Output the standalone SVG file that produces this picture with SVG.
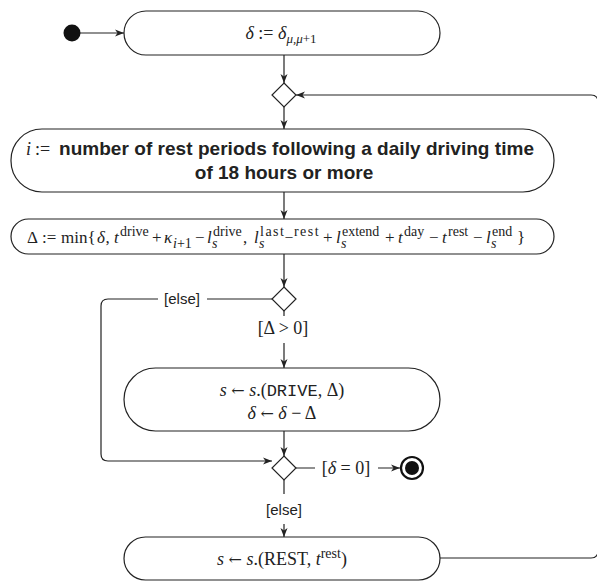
<svg xmlns="http://www.w3.org/2000/svg" width="597" height="582" viewBox="0 0 597 582">
<defs>
<marker id="arr" markerWidth="10" markerHeight="8" refX="9" refY="4" orient="auto" markerUnits="userSpaceOnUse">
<path d="M0,0.5 L9,4 L0,7.5 L2.5,4 Z" fill="#222"/>
</marker>
<style>
.node{fill:#fff;stroke:#222;stroke-width:1.2}
.line{fill:none;stroke:#222;stroke-width:1.2}
.m{font-family:"Liberation Serif","DejaVu Serif",serif;font-size:18px;fill:#222}
.m3{font-family:"Liberation Serif","DejaVu Serif",serif;font-size:17px;fill:#222}
.i{font-style:italic}
.s{font-size:13px}
.sp{font-size:14px}
.ar{font-family:"DejaVu Serif",serif;font-size:16px}
.b{font-family:"Liberation Sans",Arial,sans-serif;font-weight:bold;font-size:19px;fill:#222}
.lab{font-family:"Liberation Sans",Arial,sans-serif;font-size:15px;fill:#222}
.tt{font-family:"Liberation Mono","DejaVu Sans Mono",monospace;font-size:17px}
</style>
</defs>
<rect width="597" height="582" fill="#fff"/>

<g id="connectors">
<line class="line" x1="80" y1="33" x2="124" y2="33" marker-end="url(#arr)"/>
<line class="line" x1="284" y1="55" x2="284" y2="83" marker-end="url(#arr)"/>
<line class="line" x1="284" y1="107" x2="284" y2="129" marker-end="url(#arr)"/>
<line class="line" x1="284" y1="192" x2="284" y2="219" marker-end="url(#arr)"/>
<line class="line" x1="284" y1="254" x2="284" y2="287" marker-end="url(#arr)"/>
<line class="line" x1="284" y1="311" x2="284" y2="316"/>
<line class="line" x1="284" y1="343" x2="284" y2="368" marker-end="url(#arr)"/>
<line class="line" x1="284" y1="431" x2="284" y2="456" marker-end="url(#arr)"/>
<path class="line" d="M272,299 H207 M158,299 H108 Q101,299 101,306 V454 Q101,461 108,461 H272" marker-end="url(#arr)"/>
<path class="line" d="M296,468 H315 M378,468 H400" marker-end="url(#arr)"/>
<line class="line" x1="284" y1="480" x2="284" y2="494"/>
<line class="line" x1="284" y1="524" x2="284" y2="537" marker-end="url(#arr)"/>
<path class="line" d="M440,558 H591 Q598,558 598,551 V102 Q598,95 591,95 H296" marker-end="url(#arr)"/>
</g>

<g id="start"><circle cx="72" cy="33" r="8.5" fill="#111"/></g>

<g id="n1">
<rect class="node" x="124" y="11" width="316" height="44" rx="22"/>
<text class="m" x="281" y="39" text-anchor="middle"><tspan class="i">δ</tspan> := <tspan class="i">δ</tspan><tspan class="s i" dy="4">μ,μ</tspan><tspan class="s">+1</tspan></text>
</g>

<g id="d1"><path class="node" d="M284,83 L296,95 L284,107 L272,95 Z"/></g>

<g id="n2">
<rect class="node" x="11" y="129" width="543" height="63" rx="31"/>
<text class="m i" x="26" y="155">i</text>
<text class="m" x="35" y="155">:=</text>
<text class="b" x="59" y="155" textLength="475" lengthAdjust="spacing">number of rest periods following a daily driving time</text>
<text class="b" x="284" y="179" text-anchor="middle">of 18 hours or more</text>
</g>

<g id="n3">
<rect class="node" x="11" y="219" width="543" height="35" rx="17.5"/>
<text class="m3" y="243"><tspan x="27">Δ</tspan><tspan x="42">:=</tspan><tspan x="61">min{</tspan><tspan x="97" class="i">δ</tspan><tspan x="105.5">,</tspan><tspan x="114" class="i">t</tspan><tspan x="152">+</tspan><tspan x="164" class="i">κ</tspan><tspan x="195">−</tspan><tspan x="207" class="i">l</tspan><tspan x="243">,</tspan><tspan x="254" class="i">l</tspan><tspan x="323">+</tspan><tspan x="336" class="i">l</tspan><tspan x="385">+</tspan><tspan x="398" class="i">t</tspan><tspan x="429">−</tspan><tspan x="442" class="i">t</tspan><tspan x="473">−</tspan><tspan x="486" class="i">l</tspan><tspan x="517">}</tspan></text>
<text class="m3 sp" y="236"><tspan x="120">drive</tspan><tspan x="213">drive</tspan><tspan x="260" letter-spacing="1.5">last_rest</tspan><tspan x="342">extend</tspan><tspan x="404">day</tspan><tspan x="448">rest</tspan><tspan x="492">end</tspan></text>
<text class="m3 sp" y="248"><tspan x="173" class="i">i</tspan><tspan>+1</tspan><tspan x="212" class="i">s</tspan><tspan x="259" class="i">s</tspan><tspan x="341" class="i">s</tspan><tspan x="491" class="i">s</tspan></text>
</g>

<g id="d2"><path class="node" d="M284,287 L296,299 L284,311 L272,299 Z"/></g>
<text class="lab" x="182" y="304" text-anchor="middle">[else]</text>
<text class="m" x="283" y="334" text-anchor="middle">[Δ &gt; 0]</text>

<g id="n4">
<rect class="node" x="124" y="368" width="316" height="63" rx="31.5"/>
<text class="m" x="282" y="396" text-anchor="middle"><tspan class="i">s</tspan> <tspan class="ar">←</tspan> <tspan class="i">s</tspan>.(<tspan class="tt">DRIVE</tspan>, Δ)</text>
<text class="m" x="282" y="419" text-anchor="middle"><tspan class="i">δ</tspan> <tspan class="ar">←</tspan> <tspan class="i">δ</tspan>  −  Δ</text>
</g>

<g id="d3"><path class="node" d="M284,456 L296,468 L284,480 L272,468 Z"/></g>
<text class="m" x="346" y="474" text-anchor="middle">[<tspan class="i">δ</tspan> = 0]</text>

<g id="final">
<circle cx="412" cy="468" r="11" fill="#fff" stroke="#111" stroke-width="2.2"/>
<circle cx="412" cy="468" r="7" fill="#111"/>
</g>

<text class="lab" x="284" y="515" text-anchor="middle">[else]</text>

<g id="n5">
<rect class="node" x="124" y="537" width="316" height="43" rx="21.5"/>
<text class="m" x="282" y="565" text-anchor="middle"><tspan class="i">s</tspan> <tspan class="ar">←</tspan> <tspan class="i">s</tspan>.(REST, <tspan class="i">t</tspan><tspan class="sp" dy="-7">rest</tspan><tspan dy="7">)</tspan></text>
</g>
</svg>
